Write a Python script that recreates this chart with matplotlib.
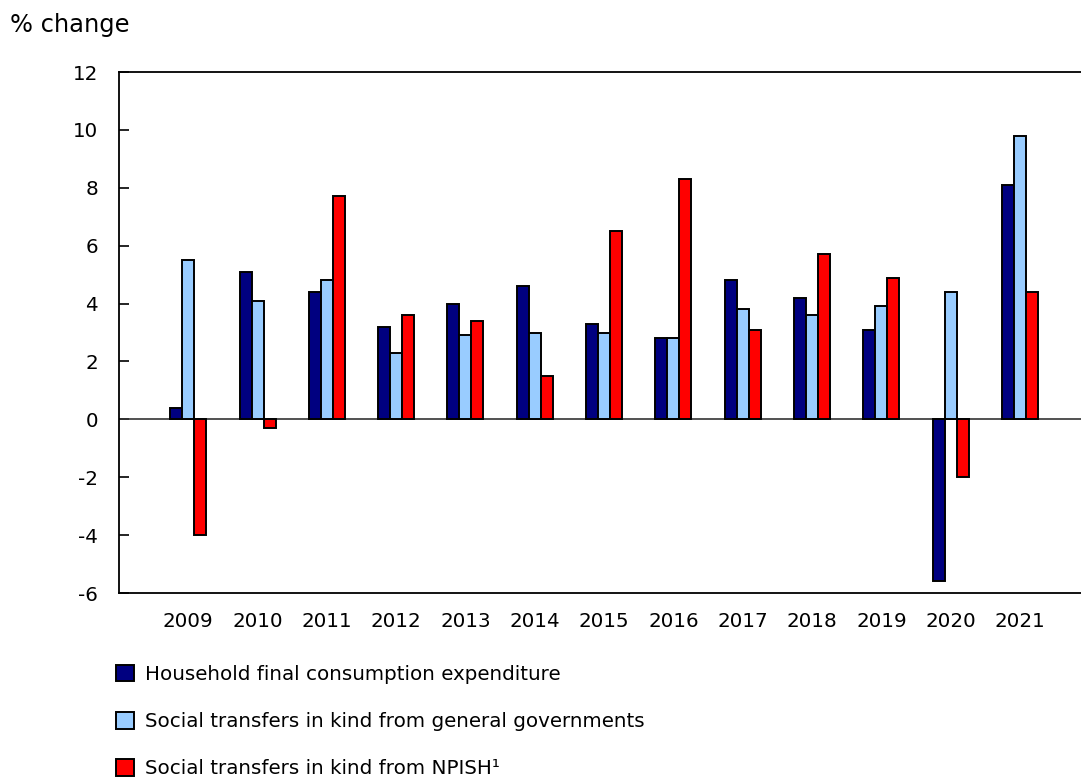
import matplotlib.pyplot as plt
import numpy as np

years = ['2009', '2010', '2011', '2012', '2013', '2014', '2015',
         '2016', '2017', '2018', '2019', '2020', '2021']
household = [0.4, 5.1, 4.4, 3.2, 4.0, 4.6, 3.3, 2.8, 4.8, 4.2, 3.1, -5.6, 8.1]
general_gov = [5.5, 4.1, 4.8, 2.3, 2.9, 3.0, 3.0, 2.8, 3.8, 3.6, 3.9, 4.4, 9.8]
npish = [-4.0, -0.3, 7.7, 3.6, 3.4, 1.5, 6.5, 8.3, 3.1, 5.7, 4.9, -2.0, 4.4]

labels = ['Household final consumption expenditure',
          'Social transfers in kind from general governments',
          'Social transfers in kind from NPISH\u00b9']
colors = ['#000080', '#99CCFF', '#FF0000']

plt.rcParams['font.family'] = ['DejaVu Sans']
plt.rcParams['axes.unicode_minus'] = False
fs = 14.3

fig = plt.figure(figsize=(10.81, 7.81), dpi=100)
ax = fig.add_axes([0.110, 0.2407, 0.890, 0.6671])

x = np.arange(len(years))
w = 0.173
for i, (vals, c, lab) in enumerate(zip([household, general_gov, npish], colors, labels)):
    ax.bar(x + (i - 1) * w, vals, width=w, color=c, edgecolor='black',
           linewidth=1.4, label=lab, zorder=3)

ax.axhline(0, color='#333333', linewidth=1.2, zorder=2)

ax.set_xlim(-1.0, 12.88)
ax.set_ylim(-6, 12)
ax.set_yticks(range(-6, 13, 2))
ax.set_xticks(x)
ax.set_xticklabels(years)
ax.tick_params(axis='y', direction='in', length=7, width=1.2, pad=15, labelsize=fs)
ax.tick_params(axis='x', length=0, pad=14, labelsize=fs)
for s in ['top', 'bottom', 'left']:
    ax.spines[s].set_linewidth(1.3)
ax.spines['right'].set_visible(False)

fig.text(0.009, 0.968, '% change', fontsize=17.4, va='center', ha='left')

fig.legend(loc='upper left', bbox_to_anchor=(0.1000, 0.159), frameon=False,
           fontsize=fs, handlelength=0.9, handleheight=0.9, handletextpad=0.55,
           labelspacing=1.42, borderaxespad=0)

fig.savefig('out.png', dpi=100)
